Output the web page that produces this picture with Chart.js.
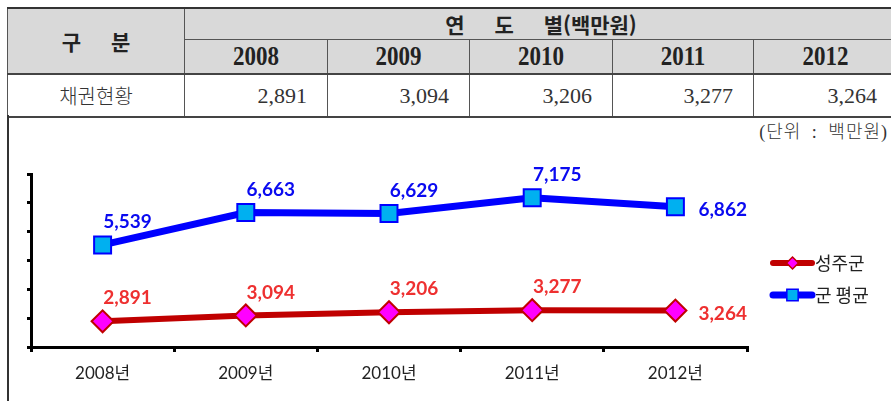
<!DOCTYPE html>
<html lang="ko">
<head>
<meta charset="utf-8">
<script src="https://cdn.jsdelivr.net/npm/chart.js@4.4.1/dist/chart.umd.min.js"></script>
<style>
  html, body { margin: 0; padding: 0; background: #fff; }
  body { width: 891px; height: 401px; overflow: hidden; position: relative; }
  table.stat {
    position: absolute; left: 7px; top: 7px;
    border-collapse: collapse; table-layout: fixed; width: 890px;
    font-family: 'Liberation Serif', 'Noto Sans CJK KR', serif;
    color: #222;
  }
  table.stat td { border: 1px solid #555; padding: 0; text-align: center; }
  table.stat tr.h1 td { height: 28px; background: #d9d9d9; border-top: 2px solid #333; font-weight: bold; font-size: 21px; }
  table.stat tr.h2 td { height: 33px; background: #d9d9d9; font-size: 23px; border-bottom: 2px solid #444; }
  table.stat tr.h2 td span { display: inline-block; transform: scaleY(1.18); font-weight: 600; }
  table.stat td.gubun { background: #d9d9d9; font-family: 'Noto Sans CJK KR', sans-serif; font-weight: bold; font-size: 21px; word-spacing: 24px; border-bottom: 2px solid #444; border-top: 2px solid #333; }
  table.stat td.yb { font-family: 'Noto Sans CJK KR', sans-serif; word-spacing: 24px; }
  table.stat tr.d td { height: 41px; font-size: 22px; text-align: right; padding-right: 20px; border-bottom: 2px solid #444; color: #333; }
  table.stat tr.d td.nm { text-align: center; padding-right: 0; font-family: 'Noto Sans CJK KR', sans-serif; font-weight: 300; font-size: 20px; }
  .unit { position: absolute; right: 3px; top: 117px; font-family: 'Liberation Serif', 'Noto Sans CJK KR', serif; font-size: 18px; color: #333; font-weight: 300; word-spacing: 5px; letter-spacing: 1px; }
  .frame { position: absolute; left: 7px; top: 115px; width: 0; height: 300px; border-left: 2px solid #333; }
  #wrap { position: absolute; left: 0; top: 116px; width: 891px; height: 285px; }
</style>
</head>
<body>
<table class="stat">
  <colgroup>
    <col style="width:177px"><col style="width:143px"><col style="width:142px">
    <col style="width:143px"><col style="width:141px"><col style="width:144px">
  </colgroup>
  <tr class="h1"><td class="gubun" rowspan="2">구 분</td><td class="yb" colspan="5">연 도 별(백만원)</td></tr>
  <tr class="h2"><td><span>2008</span></td><td><span>2009</span></td><td><span>2010</span></td><td><span>2011</span></td><td><span>2012</span></td></tr>
  <tr class="d"><td class="nm">채권현황</td><td>2,891</td><td>3,094</td><td>3,206</td><td>3,277</td><td>3,264</td></tr>
</table>
<div class="unit">(단위 : 백만원)</div>
<div class="frame"></div>
<div id="wrap"><canvas id="chart"></canvas></div>

<script>
// ── data ──
const years = ['2008년', '2009년', '2010년', '2011년', '2012년'];
const seongjuValues = [2891, 3094, 3206, 3277, 3264];
const countyAvgValues = [5539, 6663, 6629, 7175, 6862];
const seriesNames = ['성주군', '군 평균'];
const yMin = 2000, yMax = 8000, yStep = 1000;

const CHART_FONT = "Lato, 'Noto Sans CJK KR', sans-serif";
const LABEL_COLORS = ['#ee3030', '#0a0af0'];

// value labels above-right of each point, the last one to the right
const valueLabels = {
    id: 'valueLabels',
    afterDatasetsDraw(chart) {
        const ctx = chart.ctx;
        ctx.save();
        ctx.font = `bold 19px ${CHART_FONT}`;
        ctx.textBaseline = 'middle';
        chart.data.datasets.forEach((ds, di) => {
            const meta = chart.getDatasetMeta(di);
            ctx.fillStyle = LABEL_COLORS[di];
            meta.data.forEach((pt, i) => {
                const txt = ds.data[i].toLocaleString('en-US');
                if (i === meta.data.length - 1) {
                    ctx.textAlign = 'left';
                    ctx.fillText(txt, pt.x + 23, pt.y + 3);
                } else {
                    ctx.textAlign = 'center';
                    ctx.fillText(txt, pt.x + 25, pt.y - 23);
                }
            });
        });
        ctx.restore();
    }
};

// legend: line with marker through it, text to the right
const lineLegend = {
    id: 'lineLegend',
    afterDraw(chart) {
        const ctx = chart.ctx;
        const x0 = 773, x1 = 812;
        const rows = [147, 179];
        ctx.save();
        chart.data.datasets.forEach((ds, di) => {
            const y = rows[di];
            ctx.strokeStyle = ds.borderColor;
            ctx.lineWidth = di === 0 ? 6 : 7;
            ctx.lineCap = 'round';
            ctx.beginPath();
            ctx.moveTo(x0, y);
            ctx.lineTo(x1, y);
            ctx.stroke();
            ctx.fillStyle = ds.pointBackgroundColor;
            ctx.strokeStyle = ds.pointBorderColor;
            ctx.lineWidth = 1.5;
            Chart.helpers.drawPoint(ctx, { pointStyle: ds.pointStyle, radius: di === 0 ? 6 : 8, borderWidth: 1.5 }, (x0 + x1) / 2, y);
            ctx.fillStyle = '#222';
            ctx.font = `18px 'Noto Sans CJK KR', sans-serif`;
            ctx.textAlign = 'left';
            ctx.textBaseline = 'middle';
            ctx.fillText(seriesNames[di], x1 + 3, y);
        });
        ctx.restore();
    }
};

new Chart(document.getElementById('chart'), {
    type: 'line',
    data: {
        labels: years,
        datasets: [
            {
                label: seriesNames[0],
                data: seongjuValues,
                borderColor: '#c00000',
                borderWidth: 6,
                pointStyle: 'rectRot',
                pointRadius: 11,
                pointBackgroundColor: '#ff00ff',
                pointBorderColor: '#c00000',
                pointBorderWidth: 2,
                tension: 0,
            },
            {
                label: seriesNames[1],
                data: countyAvgValues,
                borderColor: '#0000ff',
                borderWidth: 7,
                pointStyle: 'rect',
                pointRadius: 12,
                pointBackgroundColor: '#00b0f0',
                pointBorderColor: '#0000ff',
                pointBorderWidth: 2,
                tension: 0,
            }
        ]
    },
    options: {
        responsive: true,
        maintainAspectRatio: false,
        animation: false,
        layout: { padding: { top: 58, right: 144, left: 0, bottom: 0 } },
        plugins: {
            legend: { display: false },
            tooltip: { enabled: false },
        },
        scales: {
            x: {
                offset: true,
                afterFit: s => { s.height = 54; },
                grid: { offset: true, drawOnChartArea: false, drawTicks: true, tickLength: 5, color: '#000', lineWidth: 3 },
                border: { display: true, color: '#000', width: 3 },
                ticks: { font: { family: CHART_FONT, size: 17 }, color: '#222', padding: 11 },
            },
            y: {
                min: yMin,
                max: yMax,
                afterFit: s => { s.width = 31; },
                ticks: { stepSize: yStep, display: false },
                grid: { drawOnChartArea: false, drawTicks: true, tickLength: 4, color: '#000', lineWidth: 3 },
                border: { display: true, color: '#000', width: 3 },
            }
        }
    },
    plugins: [valueLabels, lineLegend]
});
</script>
</body>
</html>
